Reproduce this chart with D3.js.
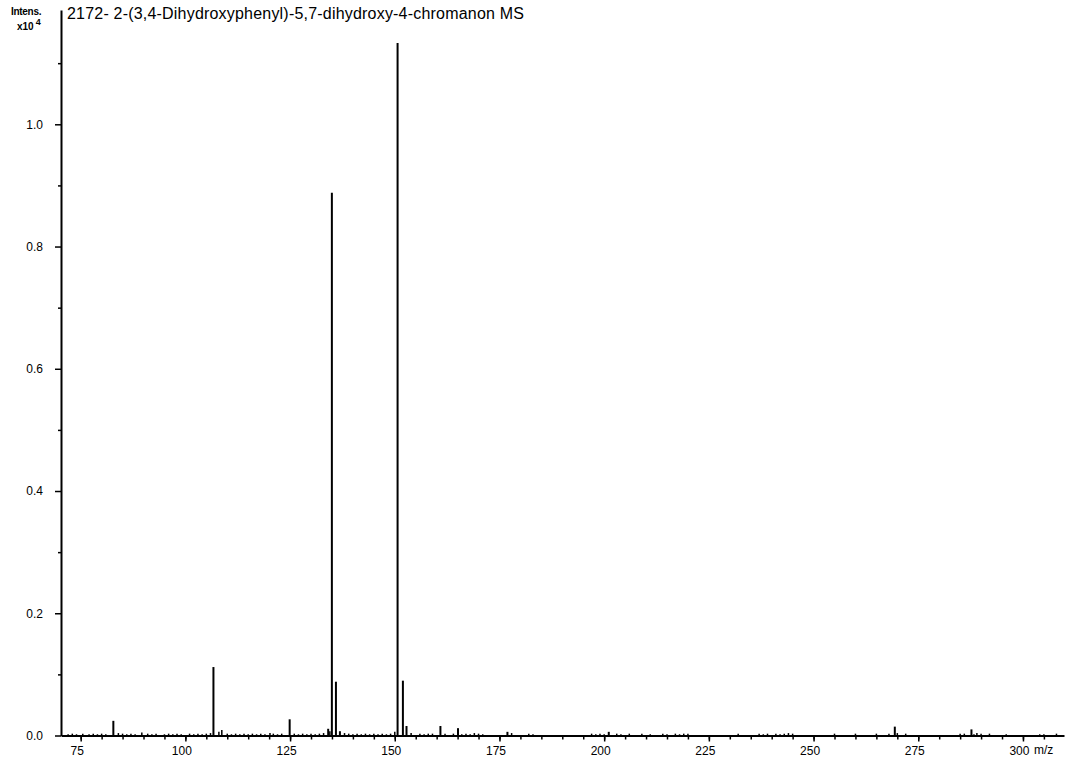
<!DOCTYPE html>
<html>
<head>
<meta charset="utf-8">
<script src="https://cdn.jsdelivr.net/npm/d3@7"></script>
<style>
  html, body { margin: 0; padding: 0; background: #fff; }
  svg { display: block; }
  text { font-family: "Liberation Sans", Arial, sans-serif; fill: #000; }
</style>
</head>
<body>
<svg id="chart" width="1066" height="760"></svg>
<script>
// ---- data (intensity in units of 10^4) ----
const titleText = "2172- 2-(3,4-Dihydroxyphenyl)-5,7-dihydroxy-4-chromanon MS";
const peakMz        = [82.8, 106.7, 124.9, 134.1, 134.98, 135.95, 136.9, 150.67, 151.94, 152.8, 160.9, 165.1, 176.9, 201.1, 269.4, 287.7];
const peakIntensity = [0.024, 0.112, 0.0265, 0.011, 0.888, 0.088, 0.007, 1.133, 0.0897, 0.0155, 0.0155, 0.012, 0.006, 0.006, 0.0145, 0.010];
const minorMz = [72, 73, 74, 75.5, 77, 78, 79, 80, 81, 84, 85, 86, 87, 88, 89.6, 91, 92, 93, 95, 96, 97, 98, 99, 101, 102, 103, 104, 105, 106, 108, 108.7, 110, 111, 112, 113, 114, 115, 116, 117, 118, 119, 120.2, 121, 122, 123, 126, 127, 128, 129, 130, 131, 132, 133, 134.5,
                 138, 139, 140, 141, 142, 143, 144, 145, 146, 147, 148, 149, 150, 153.9, 156, 157, 158, 159, 162, 164, 166, 167, 168, 169, 170, 171, 177.9, 182, 183, 197, 198, 199, 200, 203, 204, 206, 209, 211, 214, 215, 217, 218, 219, 220, 232, 237, 238, 239, 241, 242, 243, 244, 245, 255, 260, 265, 268, 270, 272, 285, 286, 288.3, 289, 290, 292, 296, 304, 305, 308];
const minorIntensity = [0.002, 0.003, 0.002, 0.003, 0.002, 0.003, 0.002, 0.003, 0.002, 0.004, 0.003, 0.002, 0.003, 0.002, 0.005, 0.003, 0.002, 0.003, 0.002, 0.003, 0.002, 0.003, 0.002, 0.003, 0.002, 0.003, 0.002, 0.003, 0.004, 0.006, 0.009, 0.003, 0.002, 0.003, 0.002, 0.003, 0.002, 0.003, 0.002, 0.003, 0.002, 0.004, 0.003, 0.002, 0.003, 0.003, 0.002, 0.003, 0.002, 0.003, 0.002, 0.003, 0.004, 0.007,
                 0.004, 0.003, 0.002, 0.003, 0.002, 0.003, 0.002, 0.003, 0.002, 0.003, 0.002, 0.003, 0.006, 0.004, 0.003, 0.002, 0.003, 0.003, 0.003, 0.003, 0.002, 0.003, 0.002, 0.004, 0.003, 0.002, 0.004, 0.003, 0.002, 0.003, 0.002, 0.003, 0.002, 0.003, 0.002, 0.003, 0.003, 0.002, 0.003, 0.002, 0.003, 0.002, 0.003, 0.003, 0.003, 0.003, 0.002, 0.003, 0.003, 0.002, 0.003, 0.004, 0.003, 0.003, 0.003, 0.003, 0.003, 0.004, 0.003, 0.003, 0.003, 0.002, 0.004, 0.003, 0.003, 0.002, 0.002, 0.002, 0.003];
const xMajorTicks = [75, 100, 125, 150, 175, 200, 225, 250, 275, 300];
const xMinorTicks = d3.range(75, 310, 5);
const yMajorTicks = [0, 0.2, 0.4, 0.6, 0.8, 1.0];
const yMinorTicks = [0.1, 0.3, 0.5, 0.7, 0.9, 1.1];

// ---- layout ----
const svg = d3.select("#chart");
const x = d3.scaleLinear().domain([70.3, 309.8]).range([61, 1064]);
const y = d3.scaleLinear().domain([0, 1.187]).range([735.5, 10]);

// minor (noise) peaks
svg.append("g").selectAll("line").data(minorMz.map((m, i) => [m, minorIntensity[i]]))
  .join("line")
  .attr("x1", d => x(d[0])).attr("x2", d => x(d[0]))
  .attr("y1", y(0)).attr("y2", d => y(d[1]))
  .attr("stroke", "#000").attr("stroke-width", 1.5);

// main peaks
svg.append("g").selectAll("line").data(peakMz.map((m, i) => [m, peakIntensity[i]]))
  .join("line")
  .attr("x1", d => x(d[0])).attr("x2", d => x(d[0]))
  .attr("y1", y(0)).attr("y2", d => y(d[1]))
  .attr("stroke", "#000").attr("stroke-width", 2);

// x axis
const xAxisG = svg.append("g").attr("transform", `translate(0,${y(0)})`);
xAxisG.call(d3.axisBottom(x).tickValues(xMinorTicks).tickSize(4).tickSizeOuter(0).tickFormat(""))
  .call(g => g.select(".domain").remove());
xAxisG.selectAll("line").attr("stroke-width", 1.5);
const xMajor = svg.append("g").attr("transform", `translate(0,${y(0)})`)
  .call(d3.axisBottom(x).tickValues(xMajorTicks).tickSize(6).tickSizeOuter(0).tickPadding(5).tickFormat(d3.format("d")));
xMajor.select(".domain").attr("stroke-width", 2);
xMajor.selectAll(".tick line").attr("stroke-width", 1.5);
xMajor.selectAll(".tick text").attr("font-size", 12).attr("dx", -4).attr("font-family", null);
svg.append("text").attr("x", 1034).attr("y", 754).attr("font-size", 12).text("m/z");

// y axis
const yMinorG = svg.append("g").attr("transform", `translate(61,0)`)
  .call(d3.axisLeft(y).tickValues(yMinorTicks).tickSize(3).tickSizeOuter(0).tickFormat(""));
yMinorG.select(".domain").remove();
yMinorG.selectAll("line").attr("stroke-width", 1.5);
const yMajor = svg.append("g").attr("transform", `translate(61,0)`)
  .call(d3.axisLeft(y).tickValues(yMajorTicks).tickSize(6).tickSizeOuter(0).tickPadding(12).tickFormat(d3.format(".1f")));
yMajor.select(".domain").attr("stroke-width", 2);
yMajor.selectAll(".tick line").attr("stroke-width", 1.5);
yMajor.selectAll(".tick text").attr("font-size", 12).attr("font-family", null);

// labels
svg.append("text").attr("x", 67).attr("y", 19).attr("font-size", 16).style("letter-spacing", "0.2px").text(titleText);
svg.append("text").attr("x", 11).attr("y", 15).attr("font-size", 10).attr("font-weight", "bold").style("letter-spacing", "-0.3px").text("Intens.");
const xl = svg.append("text").attr("x", 17).attr("y", 30).attr("font-size", 10).attr("font-weight", "bold");
xl.append("tspan").text("x10");
xl.append("tspan").attr("dx", 2).attr("dy", -5).attr("font-size", 9).text("4");
</script>
</body>
</html>
